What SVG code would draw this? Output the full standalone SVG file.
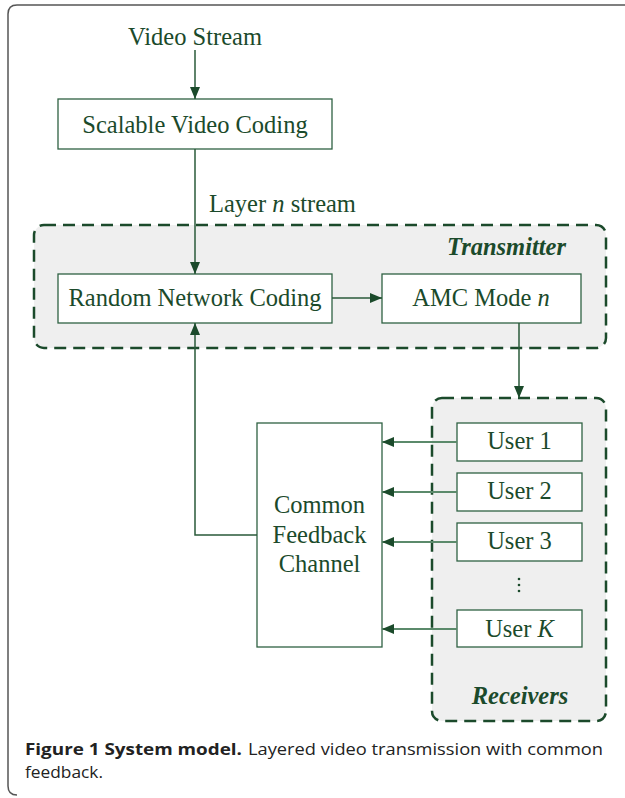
<svg xmlns="http://www.w3.org/2000/svg" width="625" height="798" viewBox="0 0 625 798">
<style>
.t{font-family:"Liberation Serif","Times New Roman",serif;font-size:24.5px;fill:#1b4a2b}
.c{text-anchor:middle}
.bi{font-weight:bold;font-style:italic}
.box{fill:#fff;stroke:#2f6142;stroke-width:1.3}
.grp{fill:#efefef;stroke:#1b4a2b;stroke-width:2.5;stroke-dasharray:12 7}
.ln{fill:none;stroke:#2a5a3a;stroke-width:1.5}
.ln2{fill:none;stroke:#5b8a6b;stroke-width:1.8}
.cap{font-family:"Open Sans","Noto Sans","Liberation Sans",sans-serif;font-size:16.5px;fill:#222}
</style>
<defs>
<marker id="ah" markerUnits="userSpaceOnUse" markerWidth="12" markerHeight="10" refX="12" refY="5" orient="auto">
<path d="M0,0 L12,5 L0,10 Z" fill="#1b4a2b"/>
</marker>
</defs>
<path d="M625,5 L17,5 Q8,5 8,14 L8,786 Q8,795 17,795" fill="none" stroke="#555" stroke-width="1.5"/>
<g id="transmitter">
<rect class="grp" x="34" y="225" width="572" height="123" rx="10"/>
<text class="t bi" x="566" y="255" text-anchor="end">Transmitter</text>
</g>
<g id="receivers">
<rect class="grp" x="432" y="398" width="174" height="323" rx="10"/>
<text class="t bi c" x="520" y="704">Receivers</text>
</g>
<g id="video-stream"><text class="t c" x="195" y="45">Video Stream</text></g>
<g id="svc"><rect class="box" x="58" y="99" width="274" height="50"/><text class="t c" x="195" y="133">Scalable Video Coding</text></g>
<g id="rnc"><rect class="box" x="58" y="274" width="274" height="49"/><text class="t c" x="195" y="306">Random Network Coding</text></g>
<g id="amc"><rect class="box" x="382" y="274" width="199" height="49"/><text class="t c" x="481" y="306">AMC Mode <tspan font-style="italic">n</tspan></text></g>
<g id="cfb"><rect class="box" x="257" y="423" width="125" height="224"/>
<text class="t c" x="319.5" y="513">Common</text><text class="t c" x="319.5" y="543">Feedback</text><text class="t c" x="319.5" y="572">Channel</text></g>
<g id="user1"><rect class="box" x="457" y="423" width="125" height="38"/><text class="t c" x="519.5" y="449">User 1</text></g>
<g id="user2"><rect class="box" x="457" y="473" width="125" height="38"/><text class="t c" x="519.5" y="499">User 2</text></g>
<g id="user3"><rect class="box" x="457" y="523" width="125" height="38"/><text class="t c" x="519.5" y="549">User 3</text></g>
<g id="dots" fill="#1b4a2b"><circle cx="519" cy="579" r="1.3"/><circle cx="519" cy="585" r="1.3"/><circle cx="519" cy="591" r="1.3"/></g>
<g id="userK"><rect class="box" x="457" y="610" width="125" height="37"/><text class="t c" x="519.5" y="637">User <tspan font-style="italic">K</tspan></text></g>
<g id="connectors">
<path class="ln" d="M195,50 L195,99" marker-end="url(#ah)"/>
<path class="ln" d="M195,149 L195,274" marker-end="url(#ah)"/>
<text class="t" x="209" y="212">Layer <tspan font-style="italic">n</tspan> stream</text>
<path class="ln" d="M332,298 L382,298" marker-end="url(#ah)"/>
<path class="ln" d="M519,323 L519,398" marker-end="url(#ah)"/>
<path class="ln2" d="M457,442 L382,442" marker-end="url(#ah)"/>
<path class="ln2" d="M457,492 L382,492" marker-end="url(#ah)"/>
<path class="ln2" d="M457,542 L382,542" marker-end="url(#ah)"/>
<path class="ln2" d="M457,629 L382,629" marker-end="url(#ah)"/>
<path class="ln" d="M257,535 L195,535 L195,323" marker-end="url(#ah)"/>
</g>
<g id="caption">
<text class="cap" x="25" y="755" font-weight="bold" textLength="217" lengthAdjust="spacingAndGlyphs">Figure 1 System model.</text>
<text class="cap" x="248" y="755" textLength="355" lengthAdjust="spacingAndGlyphs">Layered video transmission with common</text>
<text class="cap" x="25" y="778" textLength="78" lengthAdjust="spacingAndGlyphs">feedback.</text>
</g>
</svg>
